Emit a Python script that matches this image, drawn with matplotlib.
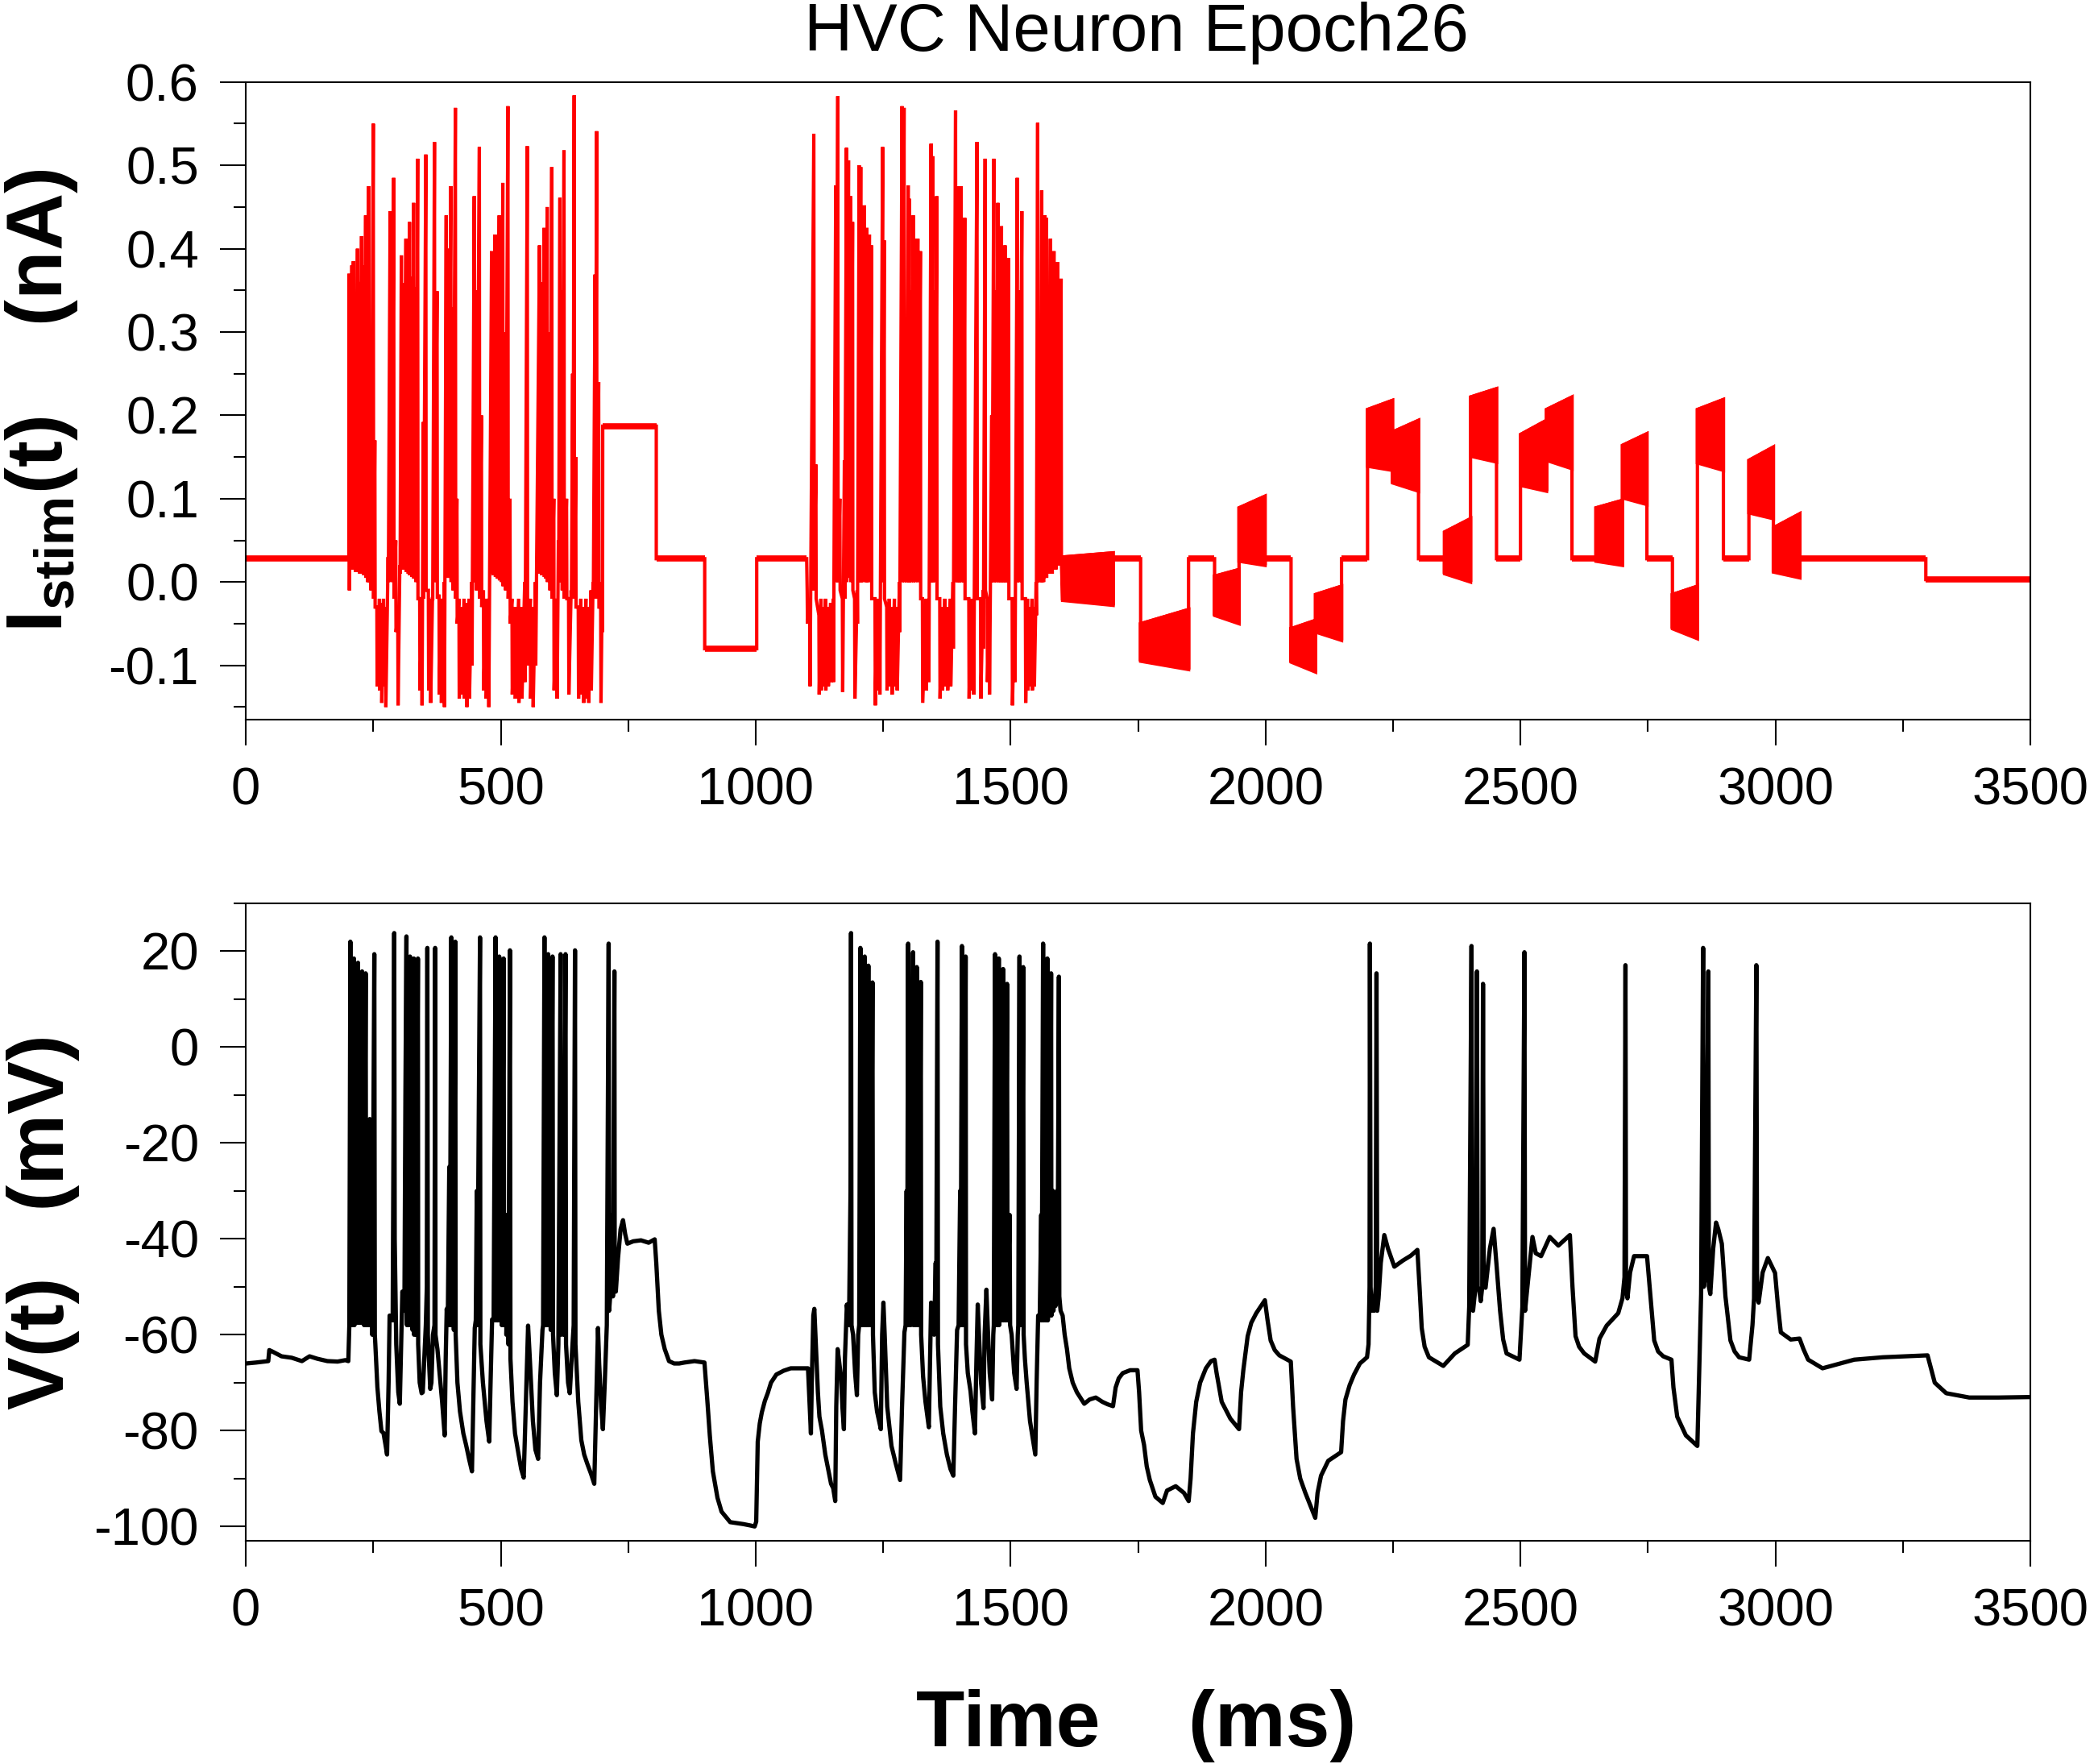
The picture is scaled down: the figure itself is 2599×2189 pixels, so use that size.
import matplotlib
matplotlib.use("Agg")
import matplotlib.pyplot as plt
from matplotlib.ticker import MultipleLocator

plt.rcParams["font.family"] = ["Liberation Sans", "DejaVu Sans"]
plt.rcParams["axes.unicode_minus"] = False
plt.rcParams["mathtext.fontset"] = "custom"
plt.rcParams["mathtext.rm"] = "Liberation Sans:bold"
plt.rcParams["mathtext.bf"] = "Liberation Sans:bold"
plt.rcParams["mathtext.it"] = "Liberation Sans:bold"

TITLE = "HVC Neuron Epoch26"

# ---- stimulating current (nA) ----
# quiet stretches: (start ms, end ms, level nA)
stim_steps = [
    (0, 202, 0.028), (700, 805, 0.187), (805, 900, 0.028), (900, 1002, -0.080),
    (1002, 1100, 0.028), (1701, 1755, 0.028), (1849, 1900, 0.028),
    (1999, 2050, 0.028), (2149, 2200, 0.028), (2300, 2351, 0.028),
    (2453, 2500, 0.028), (2601, 2648, 0.028), (2748, 2798, 0.028),
    (2898, 2948, 0.028), (3048, 3295, 0.028), (3295, 3500, 0.003),
]

# dense ripple blocks: (start, end, top at start, top at end, bottom at start, bottom at end)
stim_ripple = [
    (1602, 1701, 0.030, 0.035, -0.022, -0.028),
    (1755, 1849, -0.050, -0.033, -0.095, -0.105),
    (1900, 1948, 0.007, 0.015, -0.040, -0.050),
    (1948, 1999, 0.089, 0.103, 0.025, 0.020),
    (2050, 2098, -0.056, -0.046, -0.096, -0.108),
    (2098, 2149, -0.015, -0.005, -0.060, -0.070),
    (2200, 2249, 0.207, 0.218, 0.139, 0.134),
    (2249, 2300, 0.180, 0.194, 0.119, 0.109),
    (2351, 2402, 0.060, 0.076, 0.010, 0.000),
    (2402, 2453, 0.222, 0.232, 0.151, 0.144),
    (2500, 2551, 0.177, 0.194, 0.116, 0.109),
    (2551, 2601, 0.207, 0.222, 0.146, 0.136),
    (2648, 2700, 0.089, 0.098, 0.025, 0.020),
    (2700, 2748, 0.164, 0.178, 0.101, 0.093),
    (2798, 2847, -0.015, -0.005, -0.056, -0.068),
    (2847, 2898, 0.207, 0.219, 0.143, 0.134),
    (2948, 2996, 0.146, 0.162, 0.083, 0.076),
    (2996, 3048, 0.065, 0.082, 0.012, 0.005),
]

# spiking stretches: (time ms, peak nA, value right after)
stim_burst_1 = [
    (202.5, 0.37, -0.01), (205, 0.30, 0.02), (208, 0.38, 0.015), (211, 0.385, 0.015),
    (215, 0.33, 0.012), (219, 0.40, 0.012), (223, 0.36, 0.01), (227, 0.415, 0.01),
    (231, 0.38, 0.008), (235, 0.44, 0.005), (238, 0.30, 0.0), (241, 0.475, 0.0),
    (245, 0.28, -0.01), (250, 0.55, -0.02), (253, 0.17, -0.03),
    (257, -0.03, -0.125), (262, -0.02, -0.13), (266, -0.025, -0.145), (270, -0.02, -0.125),
    (274, -0.03, -0.15), (279, 0.03, 0.0), (283, 0.445, 0.01), (286, 0.34, 0.0),
    (290, 0.485, -0.02), (294, 0.05, -0.06), (298, -0.04, -0.148),
    (302, 0.02, 0.01), (305, 0.392, 0.015), (309, 0.359, 0.015), (314, 0.412, 0.012),
    (318, 0.346, 0.01), (321, 0.432, 0.008), (325, 0.366, 0.006), (329, 0.455, 0.004),
    (333, 0.354, 0.0), (337, 0.508, -0.02), (341, -0.02, -0.13), (345, -0.03, -0.148),
    (348, 0.192, -0.02), (353, 0.513, -0.01), (358, -0.01, -0.13), (362, -0.02, -0.145),
    (366, -0.02, -0.02), (370, 0.528, 0.0), (375, 0.349, -0.02), (379, -0.015, -0.135),
    (383, -0.02, -0.145), (386, -0.02, -0.13), (389, 0.0, -0.15),
    (393, 0.44, 0.01), (397, 0.40, 0.005), (402, 0.475, 0.0), (406, 0.33, -0.01),
    (411, 0.569, -0.02), (414, 0.10, -0.05), (418, -0.02, -0.14), (423, -0.03, -0.135),
    (428, -0.02, -0.14), (433, -0.025, -0.15), (438, -0.02, -0.14), (443, 0.0, -0.1),
    (448, 0.463, 0.0), (452, 0.35, -0.01), (458, 0.522, -0.02), (462, 0.20, -0.03),
    (466, -0.01, -0.13), (471, -0.02, -0.14), (476, -0.02, -0.15),
    (482, 0.397, 0.01), (485, 0.35, 0.008), (489, 0.417, 0.006), (493, 0.36, 0.004),
    (497, 0.440, 0.002), (501, 0.37, 0.0), (504, 0.479, -0.005), (509, 0.30, -0.01),
    (514, 0.571, -0.02), (518, 0.10, -0.05), (522, -0.02, -0.135), (528, -0.03, -0.14),
    (535, -0.02, -0.145), (541, -0.03, -0.14), (547, 0.0, -0.12), (552, 0.523, -0.1),
    (558, -0.02, -0.14), (563, -0.03, -0.15), (568, 0.0, -0.1),
    (576, 0.404, 0.01), (580, 0.36, 0.008), (585, 0.425, 0.006), (588, 0.37, 0.004),
    (591, 0.450, 0.0), (596, 0.30, -0.01), (600, 0.498, -0.02), (604, 0.10, -0.13),
    (610, -0.02, -0.14), (613, 0.05, 0.0), (616, 0.461, 0.0), (620, 0.35, -0.01),
    (624, 0.518, -0.02), (629, 0.10, -0.02), (633, -0.02, -0.135), (638, -0.01, -0.02),
    (641, 0.25, -0.01), (644, 0.584, -0.02), (647, 0.15, -0.03),
    (652, -0.03, -0.14), (657, -0.02, -0.135), (662, -0.03, -0.145), (667, -0.02, -0.14),
    (672, -0.03, -0.145), (677, -0.01, -0.13), (681, 0.0, -0.02), (685, 0.369, 0.0),
    (688, 0.541, -0.02), (692, 0.24, -0.03), (696, -0.03, -0.145), (699, 0.0, -0.06),
]

stim_burst_2 = [
    (1101, -0.01, -0.05), (1106, -0.03, -0.125), (1114, 0.538, -0.01), (1118, 0.141, -0.02),
    (1124, -0.04, -0.135), (1128, -0.02, -0.13), (1133, -0.03, -0.125), (1137, -0.02, -0.13),
    (1142, -0.03, -0.125), (1147, -0.025, -0.12), (1152, -0.02, -0.12),
    (1157, 0.476, 0.0), (1161, 0.583, 0.0), (1165, 0.10, -0.01), (1170, -0.02, -0.132),
    (1174, 0.146, -0.02), (1178, 0.521, 0.0), (1182, 0.506, 0.005), (1186, 0.463, 0.0),
    (1190, 0.432, -0.01), (1194, -0.02, -0.14), (1199, -0.01, -0.05), (1203, 0.50, 0.0),
    (1206, 0.498, 0.0), (1210, 0.30, 0.0), (1213, 0.452, 0.005), (1216, 0.30, 0.0),
    (1218, 0.425, 0.0), (1223, 0.417, 0.0), (1227, 0.404, -0.02), (1234, -0.02, -0.148),
    (1238, -0.02, -0.13), (1243, -0.03, -0.135), (1249, 0.522, 0.0), (1252, 0.41, -0.02),
    (1257, -0.03, -0.13), (1262, -0.02, -0.125), (1267, -0.03, -0.135), (1272, -0.02, -0.125),
    (1277, -0.03, -0.13), (1282, 0.0, -0.06),
    (1287, 0.571, 0.0), (1291, 0.569, 0.0), (1295, 0.15, 0.0), (1299, 0.476, 0.0),
    (1301, 0.46, 0.0), (1305, 0.35, 0.0), (1309, 0.44, 0.0), (1313, 0.412, 0.0),
    (1318, 0.412, 0.0), (1323, 0.397, -0.02), (1327, -0.02, -0.145), (1334, -0.02, -0.13),
    (1339, -0.02, -0.12), (1344, 0.526, 0.0), (1347, 0.511, 0.0), (1351, 0.35, 0.0),
    (1355, 0.463, -0.02), (1361, -0.02, -0.14), (1366, -0.03, -0.13), (1371, -0.02, -0.125),
    (1376, -0.03, -0.13), (1382, -0.02, -0.125), (1387, 0.0, -0.08),
    (1392, 0.566, 0.0), (1396, 0.35, 0.0), (1399, 0.475, 0.0), (1403, 0.475, 0.0),
    (1407, 0.35, 0.0), (1410, 0.437, -0.02), (1418, -0.02, -0.14), (1422, -0.02, -0.13),
    (1427, -0.03, -0.135), (1434, 0.528, -0.02), (1441, -0.02, -0.14), (1446, -0.01, -0.08),
    (1450, 0.508, -0.01), (1454, -0.02, -0.12), (1458, -0.02, -0.135),
    (1463, 0.20, 0.0), (1467, 0.508, 0.0), (1471, 0.35, 0.0), (1475, 0.455, 0.0),
    (1479, 0.35, 0.0), (1482, 0.427, 0.0), (1486, 0.35, 0.0), (1489, 0.404, 0.0),
    (1493, 0.35, 0.0), (1496, 0.389, -0.02), (1503, -0.02, -0.148), (1508, -0.02, -0.12),
    (1513, 0.485, 0.0), (1517, 0.35, 0.0), (1522, 0.445, -0.02), (1529, -0.02, -0.145),
    (1533, -0.02, -0.13), (1537, -0.03, -0.125), (1542, -0.02, -0.13), (1546, -0.03, -0.125),
    (1550, 0.0, -0.04), (1553, 0.551, 0.0), (1557, 0.30, 0.0), (1561, 0.47, 0.0),
    (1564, 0.35, 0.0), (1567, 0.44, 0.005), (1570, 0.437, 0.005), (1574, 0.35, 0.01),
    (1578, 0.412, 0.01), (1581, 0.35, 0.01), (1585, 0.397, 0.015), (1588, 0.35, 0.015),
    (1592, 0.384, 0.02), (1595, 0.35, 0.02), (1599, 0.364, 0.025),
]

# ---- membrane voltage (mV): (time ms, mV) ----
volt_rest = [
    (0, -66), (20, -65.8), (44, -65.5), (46, -63.2), (52, -63.5), (70, -64.5), (90, -64.8),
    (110, -65.5), (125, -64.5), (140, -65), (160, -65.5), (180, -65.6), (195, -65.3), (201, -65.5),
]
volt_burst_1 = [
    (203, -58), (205, 22), (206, -58), (208, -20), (209, -58), (212, 18.5), (213, -58),
    (216, -25), (217, -57.5), (220, 17.6), (221, -57.5), (224, -18), (225, -57.5), (228, 15.8),
    (229, -57.5), (231, -13), (232, -58), (235, 15.4), (236, -58), (239, -30), (240, -58),
    (243, -15), (244, -58), (247, -45), (248, -60), (252, 19.4), (253, -60), (254, -62),
    (258, -70.9), (262, -76), (266, -80.1), (270, -80.5), (274, -83), (277, -85), (280, -70),
    (282, -56), (285, -56.5), (288, -57), (290, -10), (291, 23.8), (292, -40), (295, -62),
    (299, -72), (302, -74.4), (305, -60), (307, -51), (309, -52), (311, -55), (313, -10),
    (315, 23.1), (316, -58), (318, -25), (319, -58), (322, 18.9), (323, -58), (326, -20),
    (327, -59), (329.5, 18.5), (330, -60), (333, -30), (334, -60), (337.5, 18.5), (338, -62),
    (341, -70), (344.8, -72.2), (347, -72), (350, -65), (353, -58), (355, -50), (356, 20.7),
    (357, -60), (361.7, -71.3), (364, -70), (367, -60), (370, -58), (371.3, 20.7), (372, -60),
    (375.8, -63), (380, -68), (385, -74), (390, -81), (392, -65), (394, -54.6), (396, -58),
    (399, -25), (400, -58), (403, 22.9), (404, -58), (407, -30), (408, -59), (410.8, 22),
    (411.5, -60), (415, -70), (420, -76), (426.6, -80.6), (432, -83), (438, -86),
    (443.5, -88.5), (446, -75), (449, -58.6), (451, -57), (453, -30), (454, -58),
    (459.3, 22.9), (460, -62), (465, -70), (472, -78), (477.4, -82.3), (480, -70),
    (483, -56.8), (486, -57), (489.8, 22.9), (490.5, -57), (493, -25), (494, -57),
    (497, 18.9), (497.8, -57), (501, -20), (502, -58), (505.6, 18.5), (506.5, -58),
    (510, -35), (511, -60), (514, -45), (515, -62), (518, 20.2), (519, -65), (523, -74),
    (528, -80.6), (535, -85), (540, -88), (545, -89.8), (549, -75), (553.6, -58.1),
    (557, -65), (563, -78), (568, -84), (573.3, -85.9), (577, -70), (581.8, -59), (583, -58),
    (585.7, 22.9), (586.5, -58), (589, -25), (590, -58), (593, 19.4), (594, -58), (597, -30),
    (598, -59), (601.5, 18.9), (602.5, -60), (606, -68), (610, -72.6), (613, -62),
    (617.4, 19.4), (618, -60), (622, -40), (623, -60), (627, 19.4), (628, -62), (632, -70),
    (635.4, -72.2), (639, -65), (643, -58), (645.6, 20.2), (646.5, -62), (652, -74),
    (658, -82), (663.6, -85), (670, -87), (677, -89), (683.4, -91.1), (687, -75),
    (690.7, -58.6), (693, -66), (697, -75), (700.3, -79.7), (704, -70), (708, -58),
    (711.6, 21.6), (712.5, -55), (716, -50), (719, -35), (720, -52), (722.9, 15.8),
    (723.5, -50), (725.7, -51), (730, -44), (735, -38), (739.8, -36.1), (744, -39),
    (748.3, -41), (760, -40.5), (775, -40.3), (790, -40.8), (801.9, -40.1), (805, -45),
    (810, -55), (815, -60), (821.6, -63), (830, -65.5), (840, -66), (850, -66),
    (860, -65.8), (880, -65.5), (899.5, -65.8),
]
volt_hyper = [
    (905, -73.5), (910, -81), (916, -88.5), (925, -94), (933, -96.9), (950, -99.1),
    (975.7, -99.5), (990, -99.8), (998, -100), (1001, -99), (1004, -82.3), (1008, -78.5),
    (1012, -76.2), (1018, -73.8), (1023.6, -72.2), (1030, -70), (1040.5, -68.3),
    (1055, -67.5), (1068.8, -67), (1102.6, -67),
]
volt_burst_2 = [
    (1106, -75), (1108.3, -80.6), (1110, -70), (1113, -56), (1115, -54.6), (1118, -62),
    (1122, -72), (1125, -77.1), (1130, -80), (1136.5, -85), (1142, -88), (1147.8, -91.1),
    (1152, -92), (1156, -94.7), (1158, -75), (1160.7, -63), (1163, -65), (1167.5, -69.1),
    (1170, -75), (1173, -79.7), (1175, -65), (1178.8, -53.7), (1181, -56), (1183, -58),
    (1186, -30), (1187, 23.8), (1188, -58), (1191, -60), (1195, -68), (1198.5, -72.6),
    (1201, -60), (1203, -58), (1205.3, 20.7), (1206, -58), (1209, -25), (1210, -58),
    (1213.8, 18.9), (1214.5, -58), (1217, -20), (1218, -58), (1221, 17), (1222, -58),
    (1225, -30), (1226, -58), (1229, 13.5), (1230, -60), (1233.5, -72), (1238, -76),
    (1245.4, -79.7), (1248, -60), (1250.5, -53.3), (1253, -60), (1258, -75),
    (1266.3, -83.2), (1275, -87), (1283.2, -90.3), (1287, -75), (1291.7, -59.5),
    (1294, -58), (1296, -30), (1297, -58), (1299, 21.6), (1300, -58), (1303, -25),
    (1304, -58), (1308.6, 19.8), (1309.5, -58), (1312, -30), (1313, -58), (1316, 16.7),
    (1317, -58), (1320, -35), (1321, -58), (1323.8, 13.6), (1324.5, -60), (1328.3, -68.7),
    (1333, -74), (1339.6, -79.3), (1342, -65), (1344, -53.3), (1347, -58), (1350, -60),
    (1353, -45), (1354, -58), (1356.6, 22), (1357.5, -62), (1362, -75), (1367.8, -80.6),
    (1375, -85), (1382, -88), (1387.6, -89.4), (1391, -75), (1395, -59), (1398, -58),
    (1401, -30), (1402, -58), (1404.5, 21.1), (1405.5, -58), (1408, -25), (1409, -58),
    (1411.8, 18.9), (1412.5, -62), (1416, -68), (1421.4, -71.8), (1425, -76),
    (1430, -80.6), (1433, -65), (1435.5, -53.7), (1438, -60), (1442, -70), (1446.8, -75.3),
    (1449, -60), (1452.5, -50.6), (1455, -58), (1459, -68), (1463.8, -73.5), (1466, -60),
    (1467, -58), (1469.4, 19.4), (1470, -58), (1473, -25), (1474, -58), (1476.8, 18.5),
    (1477.5, -58), (1481, -20), (1482, -57), (1485.2, 16.3), (1486, -57), (1489, -30),
    (1490, -57), (1493, 13.2), (1494, -57), (1498, -35), (1499, -58), (1502, -60),
    (1507, -68), (1511.7, -71.3), (1514, -60), (1515, -58), (1517.4, 18.9), (1518, -58),
    (1521, -30), (1522, -58), (1524.7, 16.7), (1525.5, -60), (1528, -65), (1531.5, -70),
    (1538, -78), (1544, -82), (1548.4, -85), (1551, -70), (1554, -56), (1557, -57),
    (1560, -35), (1561, -57), (1563.7, 21.6), (1564.5, -57), (1568, -25), (1569, -57),
    (1572, 18.5), (1573, -57), (1576, -20), (1577, -56), (1579.4, 15.4), (1580, -56),
    (1583, -30), (1584, -55), (1587, -40), (1588, -54), (1591, -30), (1592, -53),
    (1594.7, 14.7), (1595.5, -52), (1598, -55), (1602, -56), (1606, -60), (1610.5, -63),
    (1615, -67), (1621.8, -70), (1630, -72), (1644.4, -74.4), (1655, -73.5), (1667, -73.1),
    (1680, -74), (1690, -74.5), (1700.8, -74.9), (1706, -71), (1712, -69.1), (1720, -68),
    (1734.6, -67.4), (1748.8, -67.4),
]
volt_steps = [
    (1752, -72), (1756, -80), (1761.7, -83), (1767, -87.5), (1773, -90.3), (1784, -93.8),
    (1798.4, -95.1), (1806.8, -92.5), (1823.8, -91.6), (1840, -93), (1849.2, -94.7),
    (1853, -90), (1857.6, -80.6), (1864, -74), (1871.7, -70), (1883, -67), (1893, -65.5),
    (1900, -65.2), (1904, -68), (1914, -74), (1931, -77.5), (1948, -79.7), (1952, -72),
    (1956.4, -67.4), (1964.9, -60.3), (1972, -57.5), (1981.8, -55.5), (1998.7, -52.8),
    (2004, -57), (2010, -61.2), (2018, -63.2), (2027, -64.3), (2049.5, -65.6), (2054, -75),
    (2060.8, -85.9), (2068, -90), (2077.7, -92.9), (2097.5, -98.2), (2102, -93),
    (2108.8, -89.4), (2122.9, -86.3), (2148.2, -84.5), (2152, -78), (2156.7, -73.5),
    (2165, -70.5), (2173.6, -68.3), (2185, -66), (2199, -64.7), (2202, -62),
    (2204, -50), (2204.7, 21.6), (2206, -50), (2208, -55), (2210.3, -53.3), (2213, -55),
    (2216, -50), (2217.6, 15.4), (2219, -55), (2221.6, -52.4), (2226, -45), (2232.9, -39.2),
    (2240, -42), (2252.6, -45.8), (2269.6, -44.5), (2285, -43.5), (2297.8, -42.3),
    (2302, -50), (2306.3, -58.6), (2312, -62.5), (2320.4, -64.7), (2348.6, -66.5),
    (2371.2, -63.9), (2396.5, -62.1), (2399.4, -54.2), (2403.9, 21.1), (2405, -50),
    (2407, -55), (2409.5, -52.4), (2412, -50), (2414.6, 15.8), (2416, -50), (2419.1, -50.6),
    (2422, -53), (2425, -50), (2426.5, 13.2), (2428, -50), (2431.5, -50.2), (2440, -42),
    (2447.3, -37.9), (2453, -45.4), (2460, -55), (2466, -61), (2472.7, -63.9),
    (2498, -65.2), (2503.7, -54.2), (2507.7, 19.8), (2509, -55), (2512.2, -51.5),
    (2523.5, -39.6), (2530, -43), (2540.4, -43.6), (2557.4, -39.6), (2574.3, -41.4),
    (2596.9, -39.2), (2602, -50), (2608, -60.3), (2615, -62.5), (2625, -63.9),
    (2646.5, -65.6), (2655, -60.8), (2669, -58.1), (2691.7, -55.5), (2700, -52.4),
    (2704, -48), (2705.9, 17.1), (2707, -50), (2709.8, -52.4), (2715, -47), (2722.8, -43.6),
    (2748.2, -43.6), (2755, -52), (2762.3, -61.2), (2770, -63.5), (2780, -64.5),
    (2796.1, -65.2), (2800, -71), (2807.4, -77.1), (2824.4, -81), (2846.9, -83.2),
    (2850, -70), (2854.3, -51.5), (2858.2, 20.7), (2859.5, -50), (2863.9, -47.1),
    (2868.4, 15.8), (2869.5, -50), (2872.3, -51.5), (2878, -42), (2883.6, -36.6),
    (2888, -38), (2894.9, -41), (2902, -52), (2911.8, -61.2), (2920, -63.5),
    (2928.8, -64.7), (2948.5, -65.2), (2955, -58), (2958.1, -52.4), (2962.6, 17.1),
    (2964, -52), (2967.1, -53.3), (2975, -47), (2985.2, -44), (2999.3, -47.1), (3005, -54),
    (3010.6, -59.5), (3030, -61), (3047.3, -60.8), (3055, -63), (3064.2, -65.2),
    (3092.4, -67), (3154.5, -65.2), (3210.9, -64.7), (3298.4, -64.3), (3305, -67),
    (3312.5, -70), (3335, -72.2), (3380.2, -73.1), (3436.8, -73.1), (3500, -73),
]

X_TICKS = [0, 500, 1000, 1500, 2000, 2500, 3000, 3500]
I_TICKS = [-0.1, 0.0, 0.1, 0.2, 0.3, 0.4, 0.5, 0.6]
V_TICKS = [-100, -80, -60, -40, -20, 0, 20]


def stim_trace():
    pieces = []
    for t0, t1, lvl in stim_steps:
        pieces.append([(t0, lvl), (t1, lvl)])
    for t0, t1, top0, top1, bot0, bot1 in stim_ripple:
        pieces.append([(t0, bot0), (t0, top0), (t1, top1), (t1, bot1)])
    for burst in (stim_burst_1, stim_burst_2):
        seg = []
        for t, peak, after in burst:
            seg += [(t, peak), (t + 0.6, after)]
        pieces.append(seg)
    pieces.sort(key=lambda p: p[0][0])
    pts = [pt for p in pieces for pt in p]
    return [p[0] for p in pts], [p[1] for p in pts]


def style_axis(ax, yticks, minor_y):
    ax.set_xlim(0, 3500)
    ax.set_xticks(X_TICKS)
    ax.set_yticks(yticks)
    ax.xaxis.set_minor_locator(MultipleLocator(250))
    ax.yaxis.set_minor_locator(MultipleLocator(minor_y))
    ax.tick_params(which="major", direction="out", length=23, width=1.5,
                   labelsize=47, pad=19)
    ax.tick_params(which="minor", direction="out", length=11, width=1.5)
    for sp in ax.spines.values():
        sp.set_linewidth(1.5)


fig = plt.figure(figsize=(25.99, 21.89), dpi=100)
ax_i = fig.add_axes([0.1174, 0.5921, 0.8522, 0.3614])
ax_v = fig.add_axes([0.1174, 0.1265, 0.8522, 0.3614])

# current
ti, vi = stim_trace()
ax_i.plot(ti, vi, color="#ff0000", lw=3.0, solid_joinstyle="miter")
for t0, t1, lvl in stim_steps:
    ax_i.plot([t0, t1], [lvl, lvl], color="#ff0000", lw=5.5, solid_capstyle="butt")
for t0, t1, top0, top1, bot0, bot1 in stim_ripple:
    ax_i.fill([t0, t0, t1, t1], [bot0, top0, top1, bot1], facecolor="#ff0000",
              edgecolor="#ff0000", lw=3.0)
ax_i.set_ylim(-0.165, 0.6)
style_axis(ax_i, I_TICKS, 0.05)
ax_i.set_yticklabels([f"{v:.1f}" for v in I_TICKS])
ax_i.set_ylabel(r"I$_{\mathrm{stim}}$(t)    (nA)", fontsize=71, fontweight="bold",
                labelpad=0)
ax_i.yaxis.set_label_coords(-0.093, 0.5)

# voltage
volt = volt_rest + volt_burst_1 + volt_hyper + volt_burst_2 + volt_steps
ax_v.plot([p[0] for p in volt], [p[1] for p in volt], color="black", lw=3.8,
          solid_joinstyle="round")
ax_v.set_ylim(-103, 30)
style_axis(ax_v, V_TICKS, 10)
ax_v.set_ylabel("V(t)   (mV)", fontsize=71, fontweight="bold", labelpad=0)
ax_v.yaxis.set_label_coords(-0.093, 0.5)

fig.text(0.5425, 1 - 63 / 2189, TITLE, fontsize=60, ha="center", va="baseline")
fig.text(0.5425, 1 - 2167 / 2189, "Time    (ms)", fontsize=71, fontweight="bold",
         ha="center", va="baseline")

fig.savefig("out.png", dpi=100)
